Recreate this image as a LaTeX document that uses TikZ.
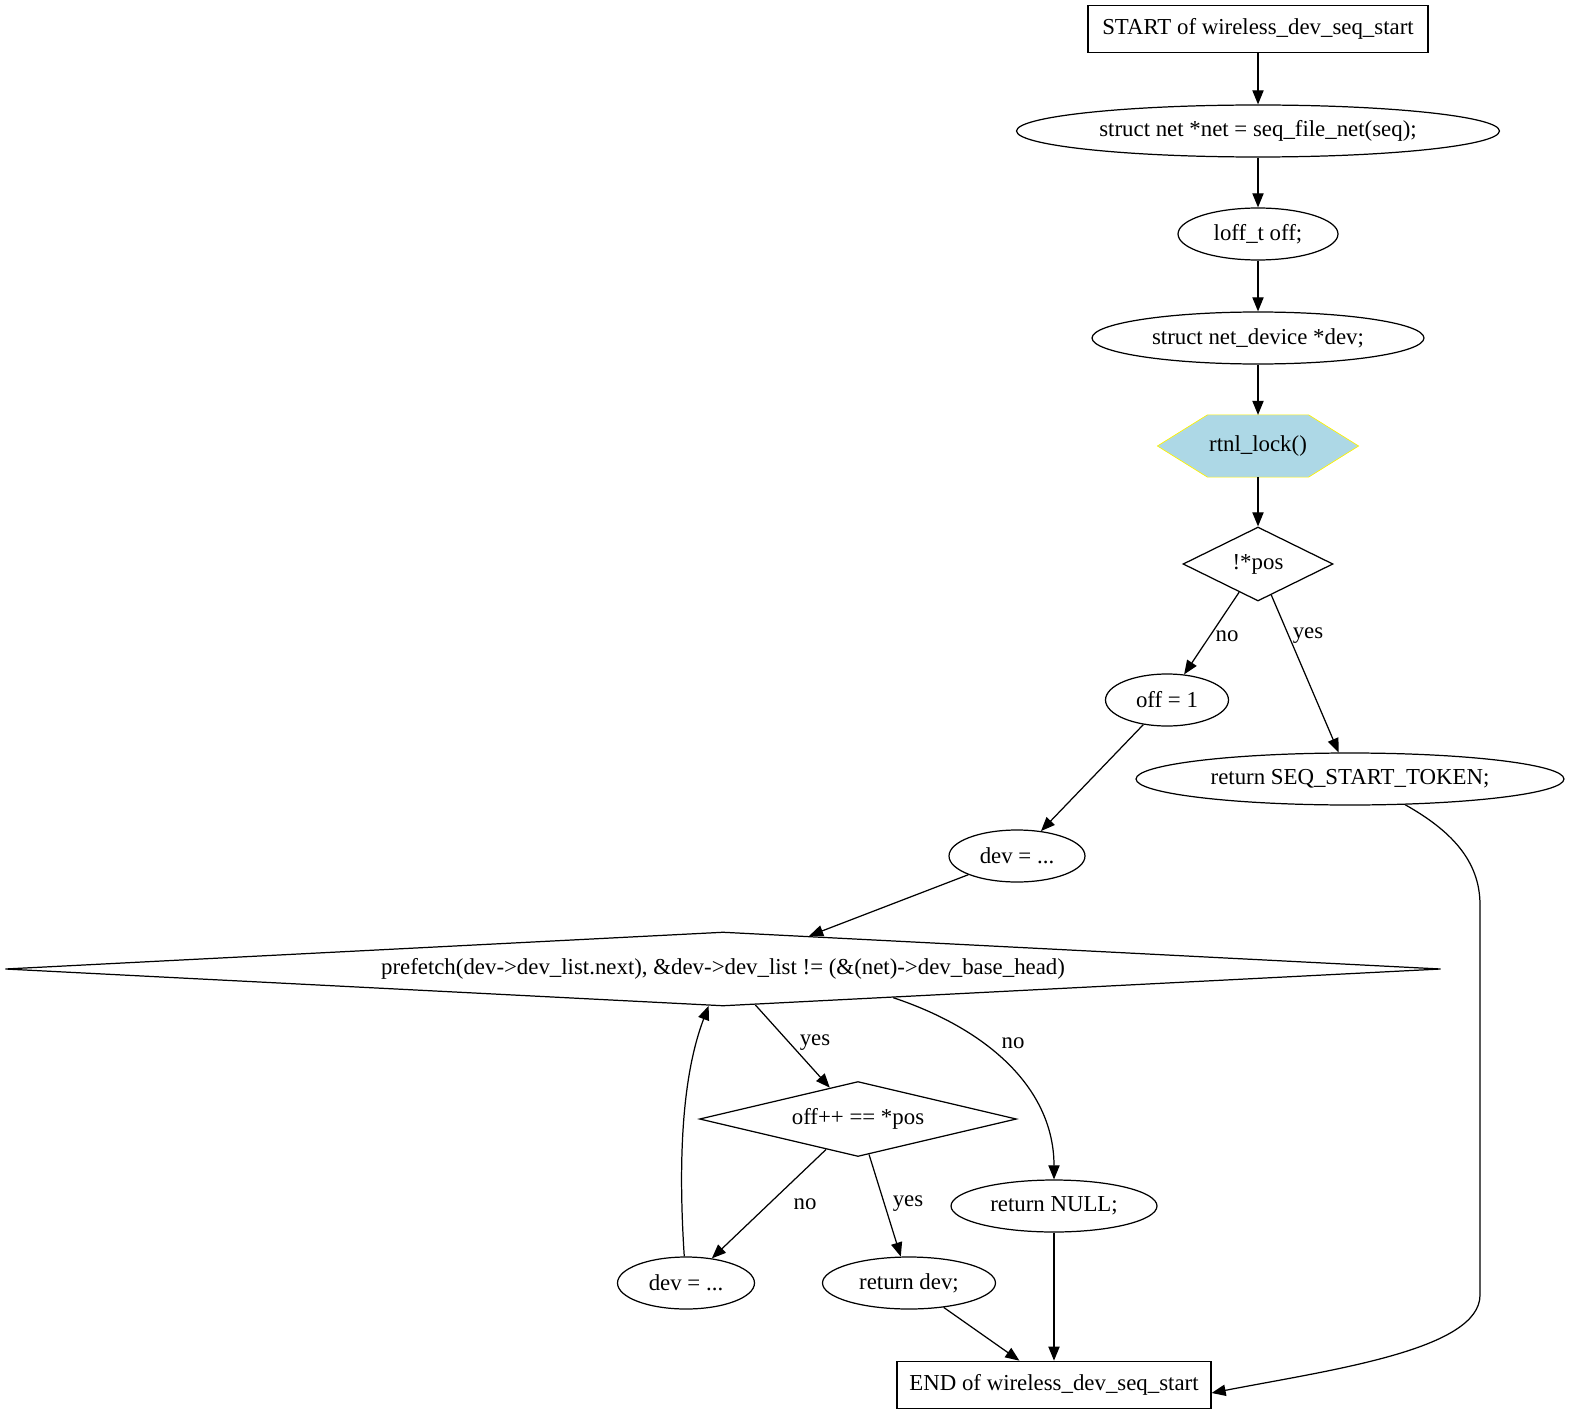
\documentclass[tikz,border=0pt]{standalone}
\usepackage{fontspec}
\setmainfont{Liberation Serif}
\usetikzlibrary{shapes.geometric,arrows.meta,backgrounds,calc}
\definecolor{lockblue}{HTML}{ADD8E6}

\begin{document}
\begin{tikzpicture}[x=0.02cm, y=-0.02cm, line width=0.7pt,
    font=\fontsize{13}{15}\selectfont,
    every node/.style={inner sep=0pt},
    terminal/.style={draw, rectangle, minimum height=0.95cm},
    stmt/.style={draw, ellipse, minimum height=1.04cm},
    cond/.style={draw, diamond, minimum height=1.48cm},
    lbl/.style={},
    flow/.style={-{Triangle[length=8pt,width=6.4pt]}}]
    \useasboundingbox (0,0) rectangle (1572,1419);
    % declarations
    \node[terminal, minimum width=6.8cm] (start) at (1258,29) {START of wireless\_dev\_seq\_start};
    \node[stmt, minimum width=9.66cm] (netdecl) at (1258,131) {struct net *net = seq\_file\_net(seq);};
    \node[stmt, minimum width=3.2cm] (offdecl) at (1258,234) {loff\_t off;};
    \node[stmt, minimum width=6.64cm] (devdecl) at (1258,338) {struct net\_device *dev;};
    \node[minimum width=4cm, minimum height=1.22cm] (lock) at (1258,446) {rtnl\_lock()};
    \begin{scope}[on background layer]
        \draw[yellow, fill=lockblue] (lock.west) -- ([xshift=1cm]lock.north west) -- ([xshift=-1cm]lock.north east)
            -- (lock.east) -- ([xshift=-1cm]lock.south east) -- ([xshift=1cm]lock.south west) -- cycle;
    \end{scope}
    \node[cond, aspect=2, minimum width=3cm] (ifpos) at (1258,564) {!*pos};
    % branches
    \node[stmt, minimum width=2.46cm] (offone) at (1167,700) {off = 1};
    \node[stmt, minimum width=8.56cm] (rettoken) at (1350,779) {return SEQ\_START\_TOKEN;};
    \node[stmt, minimum width=2.72cm] (devfirst) at (1017,856) {dev = ...};
    \node[cond, aspect=19.4, minimum width=28.72cm] (loop) at (723,969) {prefetch(dev->dev\_list.next), \&dev->dev\_list != (\&(net)->dev\_base\_head)};
    \node[cond, aspect=4.2, minimum width=6.34cm, minimum height=1.5cm] (ifoff) at (858,1119) {off++ == *pos};
    \node[stmt, minimum width=4.12cm] (retnull) at (1054,1206) {return NULL;};
    \node[stmt, minimum width=2.74cm] (devnext) at (686,1283) {dev = ...};
    \node[stmt, minimum width=3.46cm] (retdev) at (909,1283) {return dev;};
    \node[terminal, minimum width=6.28cm] (stop) at (1054,1385) {END of wireless\_dev\_seq\_start};
    % edges
    \foreach \a/\b in {start/netdecl, netdecl/offdecl, offdecl/devdecl, devdecl/lock, lock/ifpos}
        \draw[flow] (\a) -- (\b);
    \draw[flow] (ifpos) -- (offone);
    \draw[flow] (ifpos) -- (rettoken);
    \draw[flow] (offone) -- (devfirst);
    \draw[flow] (devfirst) -- (loop);
    \draw[flow] (loop) -- (ifoff);
    \draw[flow] ($(loop.south)!0.237!(loop.east)$) .. controls (990,1030) and (1054,1090) .. (retnull);
    \draw[flow] (ifoff) -- (devnext);
    \draw[flow] (ifoff) -- (retdev);
    \draw[flow] (devnext) .. controls (676,1130) and (688,1060) .. ($(loop.south)!0.02!(loop.west)$);
    \draw[flow] (retdev) -- (stop);
    \draw[flow] (retnull) -- (stop);
    \coordinate (bendtop) at (1480,905);
    \coordinate (bendlow) at (1480,1295);
    \draw[flow] (rettoken.-25) .. controls (1450,830) and (1480,860) .. (bendtop) -- (bendlow)
        .. controls (1480,1350) and (1330,1370) .. ([yshift=-0.16cm]stop.east);
    % labels
    \node[lbl] (lnoa) at (1227,636) {no};
    \node[lbl] (lyesa) at (1308,636) {yes};
    \node[lbl] (lyesb) at (815,1043) {yes};
    \node[lbl] (lnob) at (1013,1043) {no};
    \node[lbl] (lnoc) at (805,1204) {no};
    \node[lbl] (lyesc) at (908,1204) {yes};
\end{tikzpicture}
\end{document}
